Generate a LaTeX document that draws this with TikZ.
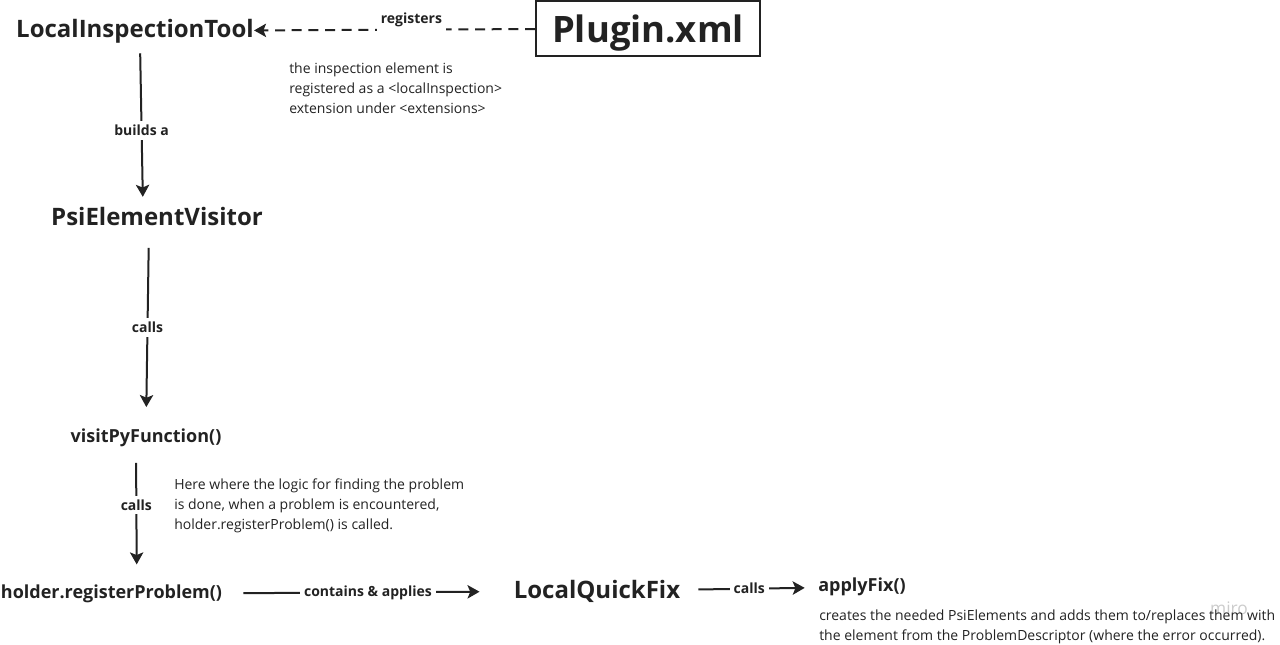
\documentclass[tikz,border=0pt]{standalone}
\usepackage{fontspec}
\setmainfont{Open Sans}
\usetikzlibrary{arrows.meta, positioning}
\definecolor{ink}{HTML}{222222}

\begin{document}
\begin{tikzpicture}[x=0.75pt,y=-0.75pt,>={Stealth[length=9pt,width=10pt,inset=2pt]},
      every node/.style={text=ink},
      title/.style={font=\fontsize{18}{22}\selectfont\bfseries, inner sep=0pt},
      method/.style={font=\fontsize{13.5}{16}\selectfont\bfseries, inner sep=0pt},
      lbl/.style={font=\fontsize{10.5}{12}\selectfont\bfseries, fill=white, inner sep=3pt},
      note/.style={font=\fontsize{10.5}{15}\selectfont, align=left, anchor=north west, inner sep=0pt},
      flow/.style={->, draw=ink, line width=1.5pt}]
      \useasboundingbox (0,0) rectangle (1280,645);
      \node[title] (lit) at (135,31) {LocalInspectionTool};
      \node[draw=ink, line width=1.5pt, minimum width=168pt, minimum height=41pt,
            text height=21pt, text depth=0pt,
            font=\fontsize{27.3}{32}\selectfont\bfseries] (plugin) at (648,28.5) {Plugin.xml};
      \node[title] (pev) at (157,217) {PsiElementVisitor};
      \node[method] (visit) at (146,438) {visitPyFunction()};
      \node[method] (holder) at (111.5,594) {holder.registerProblem()};
      \node[title] (lqf) at (597,591) {LocalQuickFix};
      \node[method] (apply) at (862,587) {applyFix()};
      \node[text=black!20, font=\fontsize{13}{15}\selectfont] (miro) at (1229,608) {miro};
      % notes
      \node[note] (regnote) at (289,63) {the inspection element is\\registered as a <localInspection>\\extension under <extensions>};
      \node[note] (logicnote) at (174,478.5) {Here where the logic for finding the problem\\is done, when a problem is encountered,\\holder.registerProblem() is called.};
      \node[note] (fixnote) at (819,610) {creates the needed PsiElements and adds them to/replaces them with\\the element from the ProblemDescriptor (where the error occurred).};
      % connectors
      \draw[flow, dashed, dash pattern=on 7.5pt off 5pt] (plugin) -- (lit) node[lbl, pos=0.44, yshift=7.5pt] {registers};
      \draw[flow, shorten <=7.5pt, shorten >=8pt] ([xshift=3.75pt]lit.south) -- ([xshift=-10.5pt]pev.north) node[lbl, pos=0.53] {builds a};
      \draw[flow, shorten <=16pt, shorten >=16.25pt] ([xshift=-6pt]pev.south) -- (visit.north) node[lbl, midway] {calls};
      \draw[flow, shorten <=11.75pt, shorten >=15.25pt] ([xshift=-7.5pt]visit.south) -- ([xshift=19pt]holder.north) node[lbl, pos=0.42] {calls};
      \draw[flow, shorten <=15.75pt, shorten >=25.5pt] (holder) -- (lqf) node[lbl, midway] {contains \& applies};
      \draw[flow, shorten <=13.5pt, shorten >=10pt] (lqf) -- (apply) node[lbl, midway] {calls};
\end{tikzpicture}
\end{document}
